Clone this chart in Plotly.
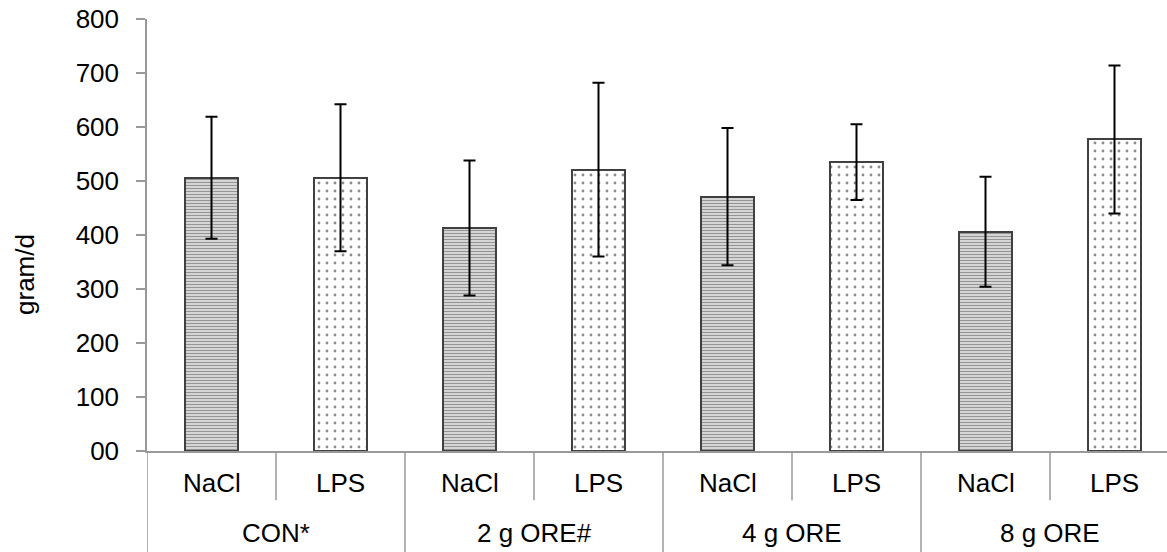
import plotly.graph_objects as go

groups = ["CON*", "2 g ORE#", "4 g ORE", "8 g ORE"]
treatments = ["NaCl", "LPS"]
means = [506, 506, 413, 521, 471, 535, 406, 577]
errors = [113, 136, 125, 161, 127, 70, 102, 137]
y_ticks = [0, 100, 200, 300, 400, 500, 600, 700, 800]
y_tick_labels = ["00", "100", "200", "300", "400", "500", "600", "700", "800"]

FONT = "Liberation Sans, Arial, sans-serif"
FS = 26
n = len(groups) * len(treatments)
xs = list(range(n))
labels = [treatments[i % 2] for i in range(n)]

fig = go.Figure()
for t_idx, tname in enumerate(treatments):
    idx = [i for i in range(n) if i % 2 == t_idx]
    if tname == "NaCl":
        pattern = dict(shape="-", fgcolor="#2a2a2a", bgcolor="white", size=3, solidity=0.6, fillmode="overlay")
    else:
        pattern = dict(shape=".", fgcolor="#1a1a1a", bgcolor="white", size=8, solidity=0.1, fillmode="overlay")
    fig.add_trace(go.Bar(
        x=[xs[i] for i in idx],
        y=[means[i] for i in idx],
        width=0.41,
        marker=dict(color="white", pattern=pattern, line=dict(color="#404040", width=2)),
        error_y=dict(type="data", array=[errors[i] for i in idx], color="black", thickness=2, width=6),
        name=tname,
        showlegend=False,
    ))

x_max = 7.5 - (1179 - 1167) / 129.0

shapes = []
for g in range(len(groups)):
    xd = 2 * g + 0.5
    shapes.append(dict(type="line", xref="x", yref="paper", x0=xd, x1=xd, y0=0, y1=-0.114,
                       line=dict(color="#999999", width=1.5)))
for g in range(1, len(groups)):
    xd = 2 * g - 0.5
    shapes.append(dict(type="line", xref="x", yref="paper", x0=xd, x1=xd, y0=0, y1=-0.24,
                       line=dict(color="#999999", width=1.5)))
shapes.append(dict(type="line", xref="x", yref="paper", x0=-0.5, x1=-0.5, y0=0, y1=-0.24,
                   line=dict(color="#999999", width=1.5)))

annotations = []
for i in range(n):
    annotations.append(dict(x=xs[i], y=-0.074, xref="x", yref="paper", text=labels[i], showarrow=False,
                            font=dict(family=FONT, size=FS, color="black"), yanchor="middle"))
for g, gname in enumerate(groups):
    annotations.append(dict(x=2 * g + 0.5, y=-0.19, xref="x", yref="paper", text=gname, showarrow=False,
                            font=dict(family=FONT, size=FS, color="black"), yanchor="middle"))
annotations.append(dict(x=0, xref="paper", xshift=-122, y=326, yref="y", text="gram/d", textangle=-90,
                        showarrow=False, font=dict(family=FONT, size=FS, color="black"),
                        xanchor="center", yanchor="middle"))

fig.update_layout(
    width=1167, height=552,
    margin=dict(l=147, r=0, t=19, b=101),
    plot_bgcolor="white", paper_bgcolor="white",
    bargap=0, barmode="overlay",
    font=dict(family=FONT, size=FS, color="black"),
    xaxis=dict(range=[-0.5, x_max], showticklabels=False, showline=True, linecolor="#999999", linewidth=1.5,
               ticks="", showgrid=False, zeroline=False, fixedrange=True),
    yaxis=dict(range=[0, 800], tickvals=y_ticks, ticktext=y_tick_labels, showline=True, linecolor="#999999",
               linewidth=1.5, ticks="outside", ticklen=9, tickcolor="#999999", tickwidth=1.5,
               ticklabelstandoff=12,
               showgrid=False, zeroline=False,
               tickfont=dict(family=FONT, size=FS, color="black")),
    shapes=shapes,
    annotations=annotations,
)

fig.write_html("out.html", config={"displayModeBar": False},
               post_script="document.body.style.margin='0';")
